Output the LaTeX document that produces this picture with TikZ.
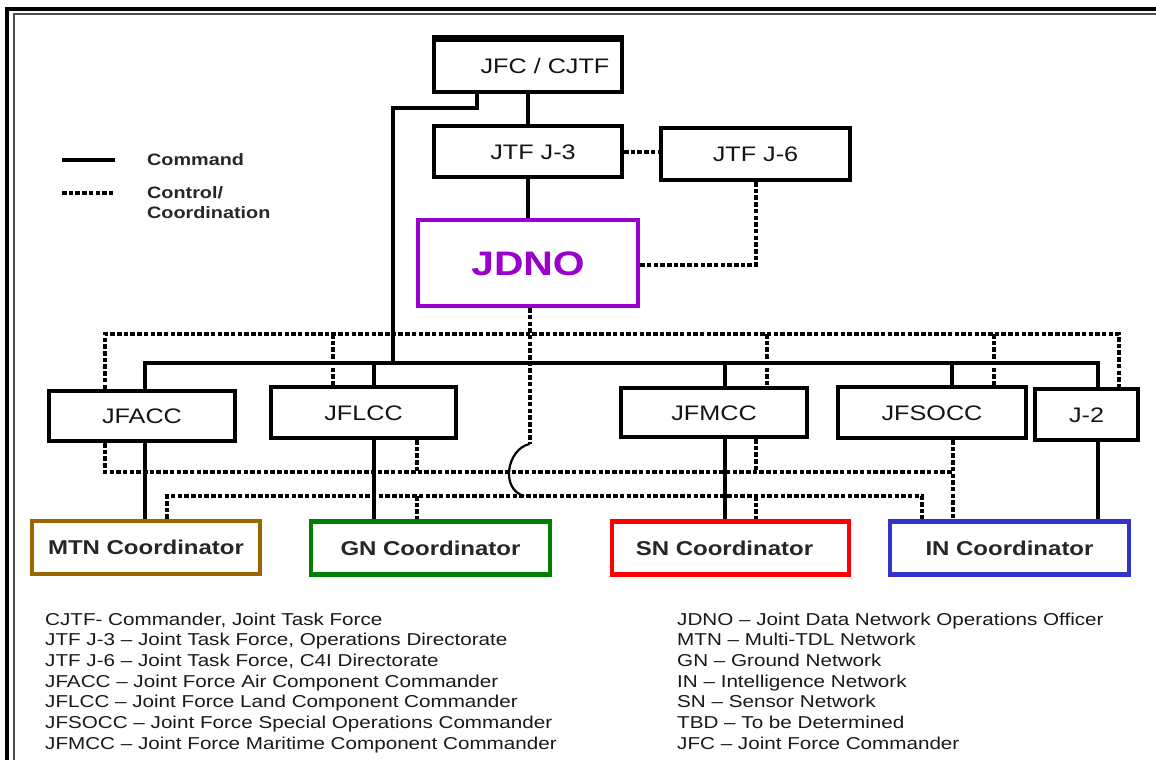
\documentclass[tikz,border=0pt]{standalone}
\usepackage{fontspec}
\setmainfont{Liberation Sans}[FakeStretch=1.2]
\definecolor{jdnopurple}{HTML}{9900CC}
\definecolor{mtnbrown}{HTML}{996600}
\definecolor{gngreen}{HTML}{008000}
\definecolor{snred}{HTML}{FF0000}
\definecolor{inblue}{HTML}{3333CC}
\begin{document}
\begin{tikzpicture}[x=1pt,y=-1pt,
  box/.style={draw=black, line width=4, inner sep=0, text=black!92,
    font=\fontsize{21}{25}\selectfont, text height=15pt, text depth=0pt},
  coordbox/.style={draw=#1, line width=4.2, inner sep=0, text=black!85,
    minimum height=53, font=\bfseries\fontsize{20}{24}\selectfont,
    text height=14.3pt, text depth=0pt},
  cmd/.style={draw=black, line width=3.5},
  ctrl/.style={draw=black, line width=4, dash pattern=on 4.5pt off 2.2pt},
  hop/.style={draw=black, line width=2.2},
  legtext/.style={anchor=base west, inner sep=0, text=black!85,
    font=\bfseries\fontsize{16.5}{20}\selectfont},
  gloss/.style={anchor=base west, inner sep=0, text=black!90,
    font=\fontsize{17.2}{20.6}\selectfont}]

\useasboundingbox (0,0) rectangle (1156,760);
\fill[white] (0,0) rectangle (1156,760);

% double frame along the top and left
\draw[line width=4.5] (7,760) -- (7,9) -- (1156,9);
\draw[line width=2, black!70] (13.8,760) -- (13.8,14.5) -- (1156,14.5);

% headquarters boxes
\node[box, minimum width=188, minimum height=52] (jfc) at (528,66) {\hspace*{34pt}JFC / CJTF};
\draw[line width=5.5] (jfc.north west) -- (jfc.north east);
\node[box, minimum width=188, minimum height=51] (j3) at (528,151.5) {\hspace*{10pt}JTF J-3};
\node[box, minimum width=189, minimum height=52] (j6) at (755.5,154) {JTF J-6};
\node[draw=jdnopurple, line width=4.2, inner sep=0, minimum width=220, minimum height=86,
  text=jdnopurple, font=\bfseries\fontsize{34}{40}\selectfont,
  text height=24.4pt, text depth=0pt] (jdno) at (528,263) {JDNO};

% component commanders
\node[box, minimum width=186, minimum height=50] (jfacc) at (142,416) {JFACC};
\node[box, minimum width=185, minimum height=51] (jflcc) at (363.5,412.5) {JFLCC};
\node[box, minimum width=186, minimum height=49] (jfmcc) at (714,412.5) {JFMCC};
\node[box, minimum width=188, minimum height=51] (jfsocc) at (932,412.5) {JFSOCC};
\node[box, minimum width=103, minimum height=51] (j2) at (1086.5,414.5) {J-2};

% network coordinators
\node[coordbox=mtnbrown, minimum width=228] (mtn) at (146,547.5) {MTN Coordinator};
\node[coordbox=gngreen, minimum width=239] (gn) at (430.5,548) {GN Coordinator};
\node[coordbox=snred, minimum width=237] (sn) at (730.5,548) {\hspace*{-12pt}SN Coordinator};
\node[coordbox=inblue, minimum width=239] (in) at (1009.5,548) {IN Coordinator};

% ---- command lines ----
\draw[cmd] (jfc.south) -- (j3.north);
\draw[cmd] (j3.south) -- (jdno.north);
\coordinate (k0) at (477,108);
\coordinate (b0) at (393,363);
\draw[cmd] (k0 |- jfc.south) -- (k0) -| (b0);
\coordinate (bL) at (145,363);
\coordinate (bF) at (374,363);
\coordinate (bM) at (725,363);
\coordinate (bS) at (952,363);
\coordinate (bR) at (1098,363);
\draw[cmd] (bL |- jfacc.north) -- (bL) -- (bR) -- (bR |- j2.north);
\draw[cmd] (bF) -- (bF |- jflcc.north);
\draw[cmd] (bM) -- (bM |- jfmcc.north);
\draw[cmd] (bS) -- (bS |- jfsocc.north);
\draw[cmd] (bL |- jfacc.south) -- (bL |- mtn.north);
\draw[cmd] (bF |- jflcc.south) -- (bF |- gn.north);
\draw[cmd] (bM |- jfmcc.south) -- (bM |- sn.north);
\draw[cmd] (bR |- j2.south) -- (bR |- in.north);

% ---- control / coordination lines ----
\draw[ctrl] (j3.east) -- (j3.east -| j6.west);
\coordinate (d6) at (756,265);
\draw[ctrl] (d6 |- j6.south) -- (d6) -- (d6 -| jdno.east);

% upper rail
\coordinate (tL) at (105,334);
\coordinate (t2) at (333,334);
\coordinate (t4) at (767,334);
\coordinate (t5) at (994,334);
\coordinate (tR) at (1119,334);
\draw[ctrl] (tL |- jfacc.north) -- (tL) -- (tR) -- (tR |- j2.north);
\draw[ctrl] (t2) -- (t2 |- jflcc.north);
\draw[ctrl] (t4) -- (t4 |- jfmcc.north);
\draw[ctrl] (t5) -- (t5 |- jfsocc.north);

% JDNO drop, hopping over the middle rail
\coordinate (dj) at (529.5,444);
\coordinate (lj) at (524,496);
\draw[ctrl] (dj |- jdno.south) -- (dj);
\draw[hop] (dj) .. controls (507,449) and (500,489) .. (lj);

% middle rail
\coordinate (mL) at (105,472);
\coordinate (m2) at (417,472);
\coordinate (m4) at (756,472);
\coordinate (mR) at (953,472);
\draw[ctrl] (mL |- jfacc.south) -- (mL) -- (mR);
\draw[ctrl] (mR |- jfsocc.south) -- (mR |- in.north);
\draw[ctrl] (m2 |- jflcc.south) -- (m2);
\draw[ctrl] (m4 |- jfmcc.south) -- (m4);

% lower rail
\coordinate (lL) at (167,496);
\coordinate (l2) at (417,496);
\coordinate (l4) at (756,496);
\coordinate (lR) at (922,496);
\draw[ctrl] (lL |- mtn.north) -- (lL) -- (lR) -- (lR |- in.north);
\draw[ctrl] (l2) -- (l2 |- gn.north);
\draw[ctrl] (l4) -- (l4 |- sn.north);

% ---- key ----
\coordinate (ks1) at (62,160);
\coordinate (ke1) at (115,160);
\coordinate (ks2) at (62,193);
\coordinate (ke2) at (115,193);
\draw[cmd] (ks1) -- (ke1);
\draw[ctrl] (ks2) -- (ke2);
\node[legtext] (kc) at (147,165.5) {Command};
\node[legtext] (kd1) at (147,198.5) {Control/};
\node[legtext] (kd2) at (147,218.5) {Coordination};

% ---- abbreviations ----
\foreach \t [count=\i] in {
  {CJTF- Commander, Joint Task Force},
  {JTF J-3 – Joint Task Force, Operations Directorate},
  {JTF J-6 – Joint Task Force, C4I Directorate},
  {JFACC – Joint Force Air Component Commander},
  {JFLCC – Joint Force Land Component Commander},
  {JFSOCC – Joint Force Special Operations Commander},
  {JFMCC – Joint Force Maritime Component Commander}}
  \node[gloss] (ga\i) at (45,{604.33+20.67*\i}) {\t};
\foreach \t [count=\i] in {
  {JDNO – Joint Data Network Operations Officer},
  {MTN – Multi-TDL Network},
  {GN – Ground Network},
  {IN – Intelligence Network},
  {SN – Sensor Network},
  {TBD – To be Determined},
  {JFC – Joint Force Commander}}
  \node[gloss] (gb\i) at (677,{604.33+20.67*\i}) {\t};
\end{tikzpicture}
\end{document}
